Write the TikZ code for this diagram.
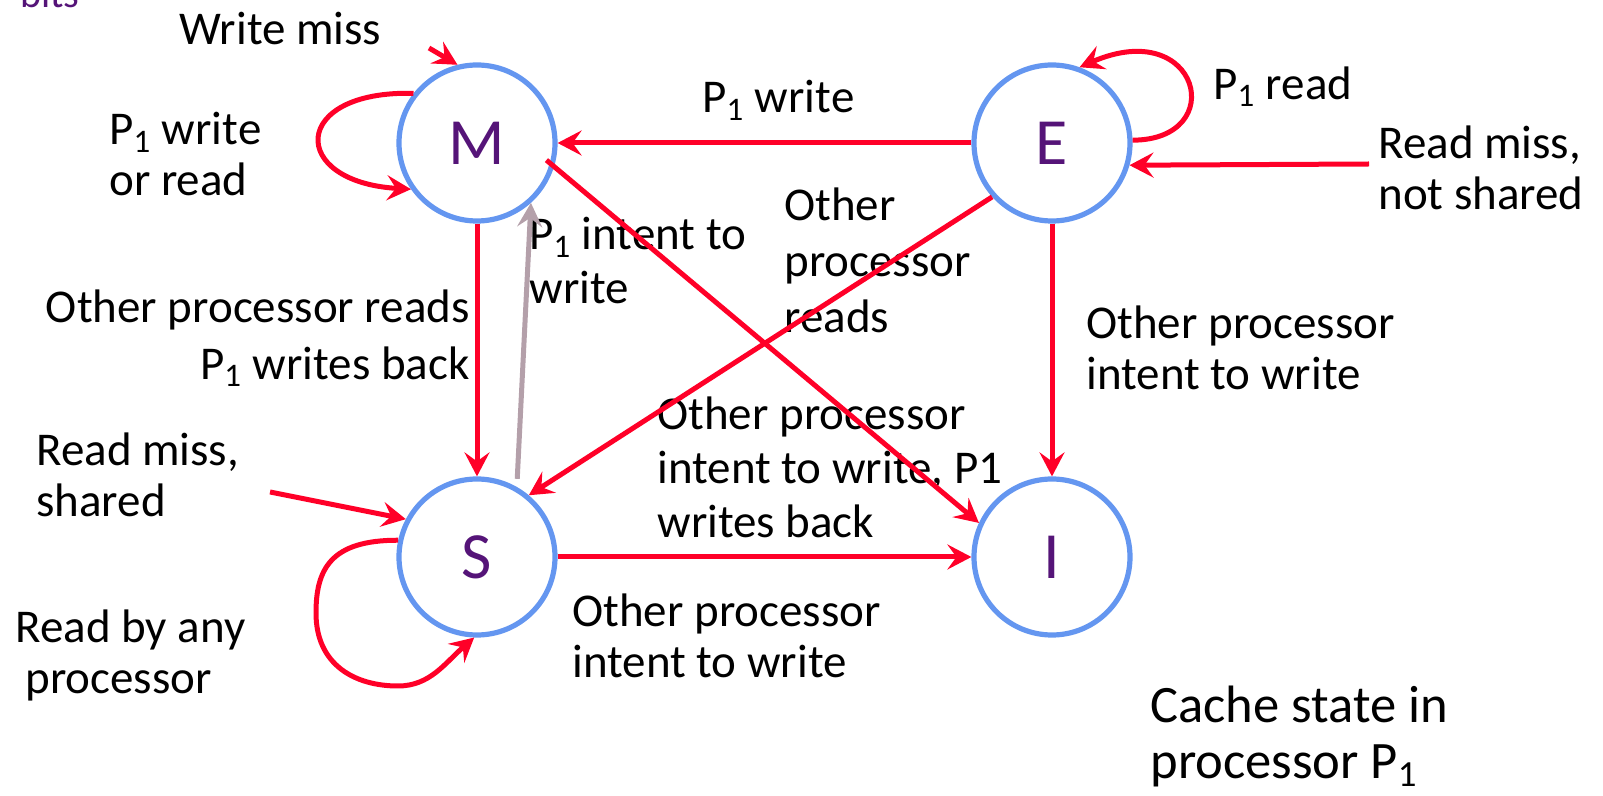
\documentclass[tikz,border=0pt]{standalone}
\usepackage{fontspec}
\setmainfont{Carlito}
\usetikzlibrary{arrows.meta}
\definecolor{cred}{RGB}{255,0,40}
\definecolor{cblue}{RGB}{100,150,240}
\definecolor{cpurple}{RGB}{85,20,120}
\definecolor{cgray}{RGB}{180,160,170}
\newcommand{\one}{\textsubscript{1}}
\begin{document}
\begin{tikzpicture}[x=0.5pt,y=-0.5pt,
 state/.style={circle,draw=cblue,line width=2.6pt,minimum size=78pt,inner sep=0pt,text=cpurple,font=\fontsize{33}{36}\selectfont},
 lbl/.style={inner sep=0pt,align=left,font=\fontsize{23.5}{25.5}\selectfont},
 tr/.style={draw=cred,line width=2.5pt,-{Stealth[length=12pt,width=12.5pt,inset=4.5pt]}},
 tg/.style={draw=cgray,line width=2.5pt,-{Stealth[length=12pt,width=12.5pt,inset=4.5pt]}},
]
\useasboundingbox (0,0) rectangle (1603,796);
\node[state] (M) at (477,143) {M};
\node[state] (E) at (1052,143) {E};
\node[state] (S) at (477,557) {S};
\node[state] (I) at (1052,557) {I};

\node[lbl,anchor=base west,text=cpurple,font=\fontsize{20}{22}\selectfont] (bits) at (20,8) {bits};
\node[lbl,anchor=north west] (t1) at (179,12) {Write miss};
\node[lbl,anchor=north west] (t2) at (109,112) {P\one{} write\\or read};
\node[lbl,anchor=north west] (t3) at (702,80) {P\one{} write};
\node[lbl,anchor=north west] (t4) at (1213,66) {P\one{} read};
\node[lbl,anchor=north west] (t5) at (1378,125) {Read miss,\\not shared};
\node[lbl,anchor=north west,font=\fontsize{23.5}{28}\selectfont] (t6) at (784,187) {Other\\processor\\reads};
\node[lbl,anchor=north west,font=\fontsize{23.5}{27}\selectfont] (t7) at (529,217) {P\one{} intent to\\write};
\node[lbl,anchor=north east,align=right] (t8) at (470,289) {Other processor reads\\[3pt]P\one{} writes back};
\node[lbl,anchor=north west] (t9) at (1086,305) {Other processor\\intent to write};
\node[lbl,anchor=north west,font=\fontsize{23.5}{27}\selectfont] (t10) at (657,396) {Other processor\\intent to write, P1\\writes back};
\node[lbl,anchor=north west] (t11) at (36,432) {Read miss,\\shared};
\node[lbl,anchor=north west] (t12) at (15,609) {Read by any\\\hspace*{5pt}processor};
\node[lbl,anchor=north west] (t13) at (572,593) {Other processor\\intent to write};
\node[lbl,anchor=north west,font=\fontsize{26.3}{28}\selectfont] (t14) at (1150,686) {Cache state in\\processor P\one};

\draw[tr] (E.west) -- (M.east);
\coordinate (wm) at (429,48);
\draw[tr] (wm) -- (M.104);
\draw[tr] (M.142) .. controls (290,90) and (288,182) .. (M.215);
\draw[tr] (M.south) -- (S.north);
\draw[tg] ([shift={(1.2pt,3.5pt)}]S.62) -- (M.-48);
\draw[tr, shorten <=-5pt] (M.-17) -- (I.155);
\draw[tr] (E.-138) -- (S.50);
\draw[tr] (E.south) -- (I.north);
\draw[tr] (S.east) -- (I.west);
\draw[tr] (E.2) .. controls (1230,140) and (1200,15) .. (E.70);
\coordinate (rmns) at (1369,164);
\draw[tr] (rmns) -- (E.-16);
\coordinate (rms) at (270,492);
\draw[tr] (rms) -- (S.152);
\draw[tr] (S.168) .. controls (330,540) and (316,570) .. (316,613) .. controls (316,665) and (355,686) .. (398,686) .. controls (430,686) and (445,663) .. (S.-92);
\end{tikzpicture}
\end{document}
